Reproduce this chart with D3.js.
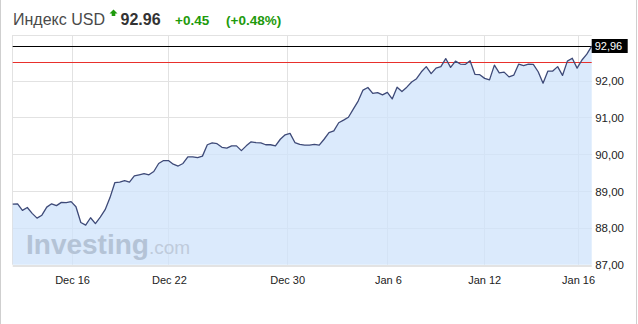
<!DOCTYPE html>
<html>
<head>
<meta charset="utf-8">
<script src="https://cdn.jsdelivr.net/npm/d3@7"></script>
<style>
  html, body { margin: 0; padding: 0; background: #fff; }
  svg { display: block; font-family: "Liberation Sans", Arial, sans-serif; }
</style>
</head>
<body>
<div id="chart"></div>
<script>
// USD index, intraday closes
const values = [
  88.65, 88.66, 88.48, 88.56, 88.40, 88.27, 88.35, 88.57, 88.66, 88.61,
  88.70, 88.69, 88.72, 88.58, 88.15, 88.08, 88.28, 88.12, 88.30, 88.50,
  88.83, 89.24, 89.25, 89.29, 89.25, 89.42, 89.45, 89.48, 89.45, 89.54,
  89.76, 89.84, 89.84, 89.74, 89.69, 89.76, 89.94, 89.94, 89.92, 89.96,
  90.27, 90.32, 90.30, 90.20, 90.18, 90.24, 90.24, 90.11, 90.24, 90.35,
  90.33, 90.32, 90.27, 90.27, 90.24, 90.42, 90.54, 90.58, 90.33, 90.28,
  90.26, 90.26, 90.28, 90.26, 90.42, 90.60, 90.65, 90.87, 90.94, 91.02,
  91.24, 91.46, 91.76, 91.83, 91.67, 91.69, 91.63, 91.70, 91.52, 91.84,
  91.72, 91.84, 91.98, 92.07, 92.26, 92.40, 92.21, 92.36, 92.40, 92.62,
  92.38, 92.55, 92.47, 92.46, 92.56, 92.19, 92.18, 92.08, 92.04, 92.44,
  92.23, 92.25, 92.12, 92.17, 92.47, 92.43, 92.47, 92.46, 92.26, 91.95,
  92.28, 92.28, 92.40, 92.16, 92.55, 92.63, 92.36, 92.58, 92.74, 92.96
];
const xTickLabels = ["Dec 16", "Dec 22", "Dec 30", "Jan 6", "Jan 12", "Jan 16"];
const xTickPos = [12.2, 32.1, 56.4, 77.1, 96.9, 116.2];
const yTicks = [87, 88, 89, 90, 91, 92];
const lastValue = 92.96;
const prevClose = 92.51;
const changeAbs = "+0.45";
const changePct = "(+0.48%)";
const title = "Индекс USD";

(function () {
  const W = 638, H = 324;
  const left = 12.7, right = 591.7, top = 35, bottom = 264.7;

  let svg = d3.select("#chart").append("svg")
    .attr("width", W)
    .attr("height", H);

  let x = d3.scaleLinear().domain([0, values.length - 1]).range([left, right]);
  let y = d3.scaleLinear().domain([87, 92]).range([bottom, 81.3]);
  let fmt = d => d.toFixed(2).replace(".", ",");
  let crisp = v => Math.floor(v) + 0.5; // snap 1px lines to a pixel row

  // widget frame
  svg.append("line").attr("x1", 0.5).attr("x2", 0.5).attr("y1", 0).attr("y2", H)
    .attr("stroke", "#cfcfcf");
  svg.append("line").attr("x1", 636.5).attr("x2", 636.5).attr("y1", 0).attr("y2", H)
    .attr("stroke", "#cfcfcf");

  // header
  let head = svg.append("g");
  head.append("text").attr("x", 13).attr("y", 25)
    .attr("font-size", 16).attr("fill", "#4a4a4a").text(title);
  head.append("path")
    .attr("d", "M113.5,9.5 L117.5,13.5 L115.3,13.5 L115.3,16 L111.7,16 L111.7,13.5 L109.5,13.5 Z")
    .attr("fill", "#1e9a0c");
  head.append("text").attr("x", 120.5).attr("y", 25)
    .attr("font-size", 16).attr("font-weight", "bold").attr("fill", "#333")
    .text(lastValue.toFixed(2));
  head.append("text").attr("x", 175).attr("y", 25)
    .attr("font-size", 13.5).attr("font-weight", "bold").attr("fill", "#1e9a0c")
    .text(changeAbs);
  head.append("text").attr("x", 226).attr("y", 25)
    .attr("font-size", 13.5).attr("font-weight", "bold").attr("fill", "#1e9a0c")
    .text(changePct);

  // grid
  let grid = svg.append("g").attr("stroke", "#e2e2e2").attr("stroke-width", 1);
  grid.selectAll("line.h").data(yTicks.slice(1)).enter().append("line")
    .attr("x1", left).attr("x2", right)
    .attr("y1", d => crisp(y(d))).attr("y2", d => crisp(y(d)));
  grid.selectAll("line.v").data(xTickPos).enter().append("line")
    .attr("x1", d => crisp(x(d))).attr("x2", d => crisp(x(d)))
    .attr("y1", top).attr("y2", bottom);
  grid.append("line").attr("x1", left).attr("x2", right).attr("y1", top + 0.5).attr("y2", top + 0.5);
  grid.append("line").attr("x1", crisp(left)).attr("x2", crisp(left)).attr("y1", top).attr("y2", bottom);

  // area + watermark
  let area = d3.area()
    .x((d, i) => x(i))
    .y0(y(87))
    .y1(d => y(d));
  svg.append("path").datum(values)
    .attr("d", area)
    .attr("fill", "#cfe3fb")
    .attr("fill-opacity", 0.75);

  let wm = svg.append("text").attr("x", 26).attr("y", 254);
  wm.append("tspan").attr("font-size", 28).attr("font-weight", "bold")
    .attr("fill", "#b4c3d6").text("Investing");
  wm.append("tspan").attr("font-size", 19).attr("fill", "#bfcbdb").text(".com");

  svg.append("line").attr("x1", left).attr("x2", right).attr("y1", 266).attr("y2", 266)
    .attr("stroke", "#e3e3e3").attr("stroke-width", 2);

  // reference lines
  svg.append("line").attr("x1", left).attr("x2", right)
    .attr("y1", crisp(y(prevClose))).attr("y2", crisp(y(prevClose)))
    .attr("stroke", "#e8302c").attr("stroke-width", 1);
  svg.append("line").attr("x1", left).attr("x2", right)
    .attr("y1", crisp(y(lastValue))).attr("y2", crisp(y(lastValue)))
    .attr("stroke", "#000").attr("stroke-width", 1);

  // series line
  let line = d3.line().x((d, i) => x(i)).y(d => y(d));
  svg.append("path").datum(values)
    .attr("d", line)
    .attr("fill", "none")
    .attr("stroke", "#3e4a78")
    .attr("stroke-width", 1.3)
    .attr("stroke-linejoin", "round");

  // y axis
  let yAxis = svg.append("g")
    .attr("transform", "translate(" + right + ",0)")
    .call(d3.axisRight(y).tickValues(yTicks).tickFormat(fmt).tickSize(0).tickPadding(3.5));
  yAxis.select(".domain").remove();
  yAxis.selectAll("text").attr("font-size", 11.5).attr("fill", "#222")
    .attr("font-family", "Liberation Sans, Arial, sans-serif");

  // last value badge
  svg.append("rect").attr("x", right).attr("y", Math.floor(y(lastValue)) - 7)
    .attr("width", 36).attr("height", 14).attr("fill", "#000");
  svg.append("text").attr("x", right + 3).attr("y", Math.floor(y(lastValue)) + 4)
    .attr("font-size", 11).attr("fill", "#fff").text(fmt(lastValue));

  // x axis
  let xAxis = svg.append("g")
    .attr("transform", "translate(0," + bottom + ")")
    .call(d3.axisBottom(x).tickValues(xTickPos).tickFormat((d, i) => xTickLabels[i]).tickSize(0).tickPadding(12));
  xAxis.select(".domain").remove();
  xAxis.selectAll("text").attr("font-size", 11).attr("fill", "#222")
    .attr("font-family", "Liberation Sans, Arial, sans-serif");
})();
</script>
</body>
</html>
